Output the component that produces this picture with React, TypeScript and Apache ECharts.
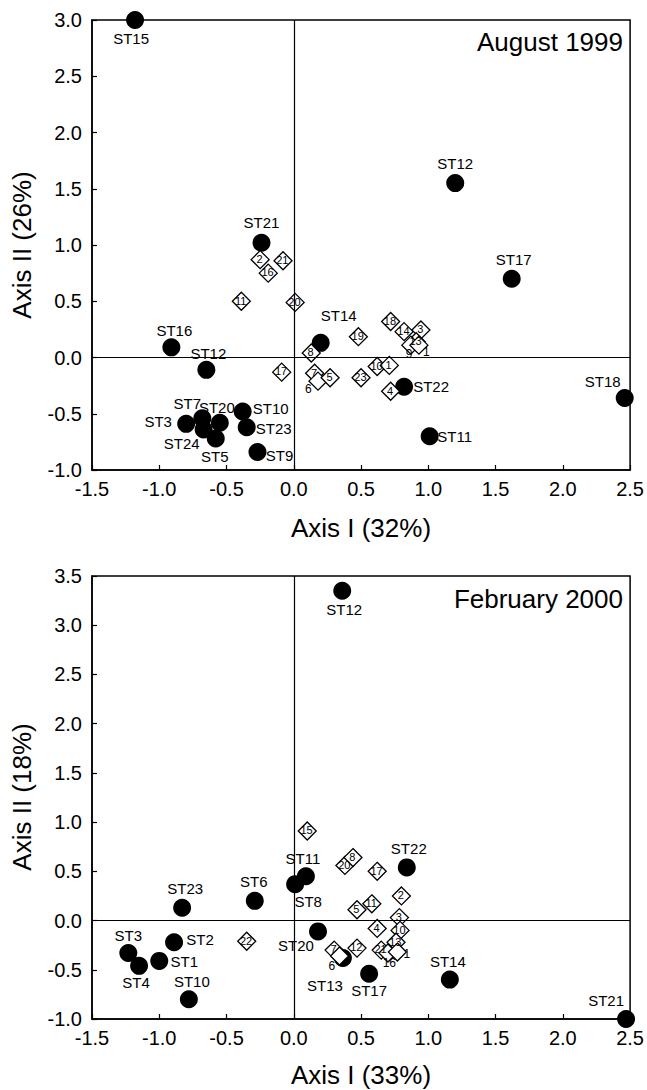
import React, { useEffect, useRef } from "react";
import * as echarts from "echarts";

// ---------- August 1999 ----------
const augStationNames = ["ST15", "ST12", "ST17", "ST21", "ST16", "ST12", "ST14", "ST22", "ST11", "ST18", "ST3", "ST7", "ST20", "ST24", "ST5", "ST10", "ST23", "ST9"];
const augStationX = [-1.18, 1.2, 1.62, -0.24, -0.91, -0.65, 0.2, 0.82, 1.01, 2.46, -0.8, -0.68, -0.55, -0.67, -0.58, -0.38, -0.35, -0.27];
const augStationY = [3.0, 1.55, 0.7, 1.02, 0.09, -0.11, 0.13, -0.26, -0.7, -0.36, -0.59, -0.54, -0.58, -0.64, -0.72, -0.48, -0.62, -0.84];

const augSpeciesNames = ["2", "21", "16", "11", "20", "17", "8", "7", "6", "5", "19", "18", "14", "3", "13", "9", "1", "23", "10", "1", "4"];
const augSpeciesX = [-0.25, -0.08, -0.19, -0.39, 0.01, -0.09, 0.13, 0.155, 0.18, 0.27, 0.48, 0.72, 0.82, 0.945, 0.91, 0.87, 0.93, 0.5, 0.62, 0.71, 0.72];
const augSpeciesY = [0.87, 0.86, 0.75, 0.5, 0.49, -0.13, 0.04, -0.14, -0.21, -0.18, 0.185, 0.32, 0.23, 0.245, 0.14, 0.11, 0.11, -0.18, -0.08, -0.07, -0.3];

// ---------- February 2000 ----------
const febStationNames = ["ST12", "ST22", "ST11", "ST8", "ST6", "ST23", "ST20", "ST13", "ST17", "ST14", "ST21", "ST3", "ST4", "ST1", "ST2", "ST10"];
const febStationX = [0.36, 0.84, 0.09, 0.01, -0.29, -0.83, 0.18, 0.365, 0.56, 1.16, 2.47, -1.23, -1.15, -1.0, -0.89, -0.78];
const febStationY = [3.35, 0.54, 0.45, 0.37, 0.2, 0.13, -0.11, -0.38, -0.54, -0.6, -1.0, -0.33, -0.46, -0.41, -0.22, -0.8];

const febSpeciesNames = ["15", "20", "8", "17", "2", "5", "11", "3", "4", "10", "13", "21", "16", "1", "7", "12", "6", "22"];
const febSpeciesX = [0.1, 0.38, 0.44, 0.62, 0.8, 0.47, 0.58, 0.785, 0.62, 0.79, 0.76, 0.65, 0.7, 0.77, 0.3, 0.47, 0.34, -0.35];
const febSpeciesY = [0.91, 0.56, 0.64, 0.5, 0.25, 0.11, 0.17, 0.03, -0.08, -0.1, -0.22, -0.3, -0.33, -0.32, -0.3, -0.28, -0.36, -0.21];

const xTickMin = -1.5;
const xTickMax = 2.5;
const augYMin = -1.0;
const augYMax = 3.0;
const febYMin = -1.0;
const febYMax = 3.5;
const tickStep = 0.5;

// ---------- label placement (style, kept separate) ----------
const augStationOffsets: number[][] = [[-4, 18], [0, -20], [2, -19], [0, -20], [3, -17], [2, -16], [18, -27], [27, 0], [25, 0], [-22, -17], [-28, -2], [-15, -15], [-3, -15], [-22, 14], [-1, 18], [28, -3], [27, 1], [22, 3]];
const augSpeciesOffsets: (number[] | null)[] = [null, null, null, null, null, null, null, null, [-9, 9], null, null, null, null, null, null, [-1, 10], [8, 8], null, null, null, null];
const febStationOffsets: number[][] = [[2, 19], [2, -19], [-3, -18], [13, 17], [-1, -19], [3, -19], [-22, 14], [-18, 28], [0, 17], [-2, -18], [-20, -19], [0, -18], [-3, 17], [25, 1], [26, -3], [3, -18]];
const febSpeciesOffsets: (number[] | null)[] = [null, null, null, null, null, null, null, null, null, null, null, null, [2, 11], [10, 3], null, null, [-7, 11], null];

const FONT = "'Liberation Sans', Arial, Helvetica, sans-serif";
const CIRCLE = 18;
const DIAMOND = 18;

function stationSeries(names: string[], xs: number[], ys: number[], offs: number[][], gi: number) {
  return {
    type: "scatter",
    xAxisIndex: gi,
    yAxisIndex: gi,
    symbol: "circle",
    symbolSize: CIRCLE,
    clip: false,
    z: 3,
    itemStyle: { color: "#000", opacity: 1 },
    emphasis: { disabled: true },
    data: names.map((n, i) => ({
      name: n,
      value: [xs[i], ys[i]],
      label: {
        show: true,
        position: [CIRCLE / 2 + offs[i][0], CIRCLE / 2 + offs[i][1]],
        align: "center",
        verticalAlign: "middle",
        formatter: n,
        color: "#000",
        textBorderWidth: 0,
        fontSize: 15,
        fontFamily: FONT,
      },
    })),
  };
}

function speciesSeries(names: string[], xs: number[], ys: number[], offs: (number[] | null)[], gi: number) {
  return {
    type: "scatter",
    xAxisIndex: gi,
    yAxisIndex: gi,
    symbol: "diamond",
    symbolSize: DIAMOND,
    clip: false,
    z: 4,
    itemStyle: { color: "#fff", borderColor: "#000", borderWidth: 1.3, opacity: 1 },
    emphasis: { disabled: true },
    data: names.map((n, i) => {
      const o = offs[i];
      return {
        name: n,
        value: [xs[i], ys[i]],
        label: {
          show: true,
          position: [DIAMOND / 2 + (o ? o[0] : 0), DIAMOND / 2 + (o ? o[1] : 0)],
          align: "center",
          verticalAlign: "middle",
          formatter: n,
          color: "#000",
          textBorderWidth: 0,
          fontSize: o ? 12 : 11,
          fontFamily: FONT,
        },
      };
    }),
    markLine: {
      silent: true,
      symbol: ["none", "none"],
      label: { show: false },
      lineStyle: { color: "#000", type: "solid", width: 1.2, opacity: 1 },
      data: [{ xAxis: 0 }, { yAxis: 0 }],
    },
  };
}

function xAxisCfg(gi: number) {
  return {
    type: "value",
    gridIndex: gi,
    min: xTickMin,
    max: xTickMax,
    interval: tickStep,
    axisLine: { show: true, onZero: false, lineStyle: { color: "#000", width: 1.5 } },
    axisTick: { show: true, inside: true, length: 5, lineStyle: { color: "#000", width: 1.2 } },
    axisLabel: {
      color: "#000",
      fontSize: 20,
      fontFamily: FONT,
      margin: 9,
      showMinLabel: true,
      showMaxLabel: true,
      formatter: (v: number) => v.toFixed(1),
    },
    splitLine: { show: false },
  };
}

function yAxisCfg(gi: number, min: number, max: number) {
  return {
    type: "value",
    gridIndex: gi,
    min,
    max,
    interval: tickStep,
    axisLine: { show: true, onZero: false, lineStyle: { color: "#000", width: 1.5 } },
    axisTick: { show: true, inside: true, length: 5, lineStyle: { color: "#000", width: 1.2 } },
    axisLabel: {
      color: "#000",
      fontSize: 20,
      fontFamily: FONT,
      margin: 10,
      showMinLabel: true,
      showMaxLabel: true,
      formatter: (v: number) => v.toFixed(1),
    },
    splitLine: { show: false },
  };
}

export default function App() {
  const ref = useRef<HTMLDivElement>(null);
  useEffect(() => {
    if (!ref.current) return;
    const chart = echarts.init(ref.current, null, { renderer: "svg" });
    const option: any = {
      animation: false,
      backgroundColor: "#fff",
      grid: [
        { left: 92, top: 20, width: 540, height: 450, show: true, borderColor: "#000", borderWidth: 1.5, backgroundColor: "transparent" },
        { left: 92, top: 576, width: 540, height: 443, show: true, borderColor: "#000", borderWidth: 1.5, backgroundColor: "transparent" },
      ],
      xAxis: [xAxisCfg(0), xAxisCfg(1)],
      yAxis: [yAxisCfg(0, augYMin, augYMax), yAxisCfg(1, febYMin, febYMax)],
      series: [
        stationSeries(augStationNames, augStationX, augStationY, augStationOffsets, 0),
        speciesSeries(augSpeciesNames, augSpeciesX, augSpeciesY, augSpeciesOffsets, 0),
        stationSeries(febStationNames, febStationX, febStationY, febStationOffsets, 1),
        speciesSeries(febSpeciesNames, febSpeciesX, febSpeciesY, febSpeciesOffsets, 1),
      ],
      graphic: [
        { type: "text", right: 24, top: 29, style: { text: "August 1999", fontSize: 26, fontFamily: FONT, fill: "#000" } },
        { type: "text", right: 24, top: 586, style: { text: "February 2000", fontSize: 26, fontFamily: FONT, fill: "#000" } },
        { type: "text", x: 361, y: 528, style: { text: "Axis I (32%)", fontSize: 26, fontFamily: FONT, fill: "#000", align: "center", verticalAlign: "middle" } },
        { type: "text", x: 361, y: 1075, style: { text: "Axis I (33%)", fontSize: 26, fontFamily: FONT, fill: "#000", align: "center", verticalAlign: "middle" } },
        { type: "text", x: 22, y: 245, rotation: Math.PI / 2, style: { text: "Axis II (26%)", fontSize: 26, fontFamily: FONT, fill: "#000", align: "center", verticalAlign: "middle" } },
        { type: "text", x: 22, y: 797, rotation: Math.PI / 2, style: { text: "Axis II (18%)", fontSize: 26, fontFamily: FONT, fill: "#000", align: "center", verticalAlign: "middle" } },
      ],
    };
    chart.setOption(option);
    return () => chart.dispose();
  }, []);
  return <div ref={ref} style={{ position: "absolute", left: 0, top: 0, width: 647, height: 1090, background: "#fff" }} />;
}
